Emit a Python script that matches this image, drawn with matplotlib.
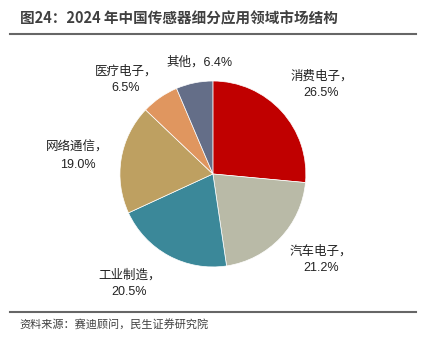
import numpy as np
import matplotlib
matplotlib.use("Agg")
import matplotlib.pyplot as plt
from matplotlib.lines import Line2D

plt.rcParams['font.family'] = ['Noto Sans CJK SC', 'DejaVu Sans']

# data
categories = ["消费电子", "汽车电子", "工业制造", "网络通信", "医疗电子", "其他"]
shares = [26.5, 21.2, 20.5, 19.0, 6.5, 6.4]
colors = ["#C00000", "#B9BAA7", "#3B8899", "#BEA061", "#E0965F", "#646E88"]

title = "图24：2024 年中国传感器细分应用领域市场结构"
source = "资料来源：赛迪顾问，民生证券研究院"

fig = plt.figure(figsize=(4.22, 3.49), dpi=100)
ax = fig.add_axes([0.152, 0.075, 0.705, 0.853])

wedges, _ = ax.pie(shares, colors=colors, startangle=90, counterclock=False,
                   wedgeprops=dict(edgecolor="white", linewidth=0.5))
ax.set_xlim(-1.6, 1.6)
ax.set_ylim(-1.6, 1.6)
ax.set_aspect("equal")
ax.axis("off")

# labels placed around each wedge's mid angle
dist = [1.51, 1.48, 1.48, 1.47, 1.38, 1.21]
shift = [-3, 5, -9, 2, 8, -4.6]
for i, (w, cat, val, d, s) in enumerate(zip(wedges, categories, shares, dist, shift)):
    ang = np.deg2rad((w.theta1 + w.theta2) / 2 + s)
    sep = "，" if i == len(categories) - 1 else "，\n"
    ax.text(d * np.cos(ang), d * np.sin(ang), f"{cat}{sep}{val:.1f}%",
            ha="center", va="center", fontsize=9, color="#222222",
            linespacing=1.5, family=["Liberation Sans", "Noto Sans CJK SC"])

fig.text(0.047, 0.948, title, fontsize=10.5, fontweight="bold",
         color="#404040", va="center", ha="left")
fig.add_artist(Line2D([0.024, 0.986], [0.903, 0.903], color="#666666", lw=1.5))
fig.add_artist(Line2D([0.024, 0.986], [0.106, 0.106], color="#666666", lw=1.5))
fig.text(0.047, 0.068, source, fontsize=8, color="#404040", va="center", ha="left")

fig.savefig("out.png", dpi=100)
